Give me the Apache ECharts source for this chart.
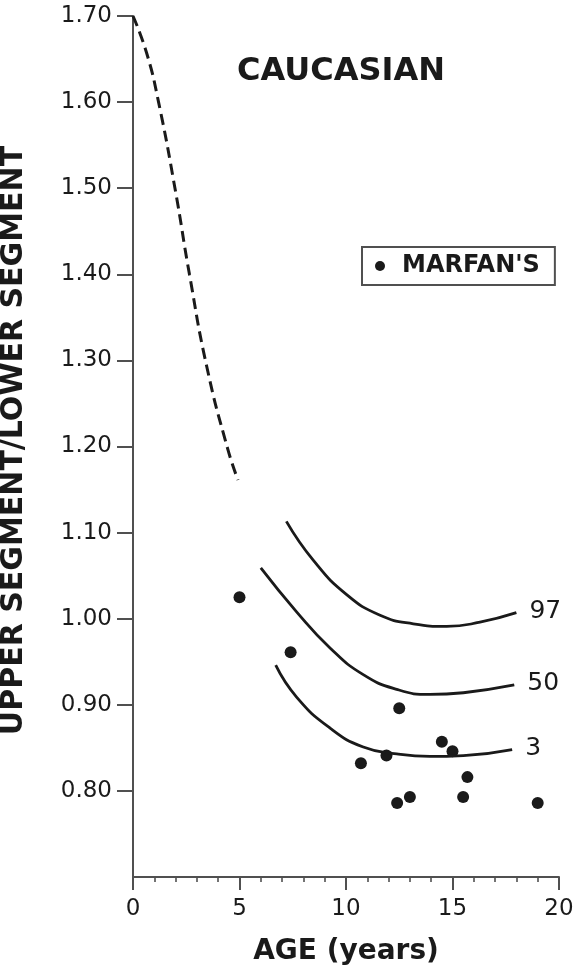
<!DOCTYPE html>
<html>
<head>
<meta charset="utf-8">
<style>
  html, body { margin: 0; padding: 0; background: #fff; }
  #chart { width: 581px; height: 973px; }
</style>
<script src="https://cdn.jsdelivr.net/npm/echarts@6/dist/echarts.min.js"></script>
</head>
<body>
<div id="chart"></div>
<script>
// Upper/lower segment ratio by age, Caucasian reference curves with Marfan's cases.

// Early-childhood extrapolated curve (dashed)
const earlyAge   = [0, 0.64, 1.2, 1.97, 2.65, 3.47, 4.46, 4.93];
const earlyRatio = [1.700, 1.657, 1.600, 1.500, 1.400, 1.292, 1.196, 1.161];

// Percentile curves
const p97Age   = [7.2, 8.46, 10.03, 11.6, 13.16, 14.73, 16.29, 18.0];
const p97Ratio = [1.113, 1.068, 1.028, 1.004, 0.994, 0.991, 0.996, 1.007];
const p50Age   = [6.0, 7.68, 9.25, 10.81, 12.38, 13.94, 15.51, 17.9];
const p50Ratio = [1.059, 1.008, 0.966, 0.935, 0.918, 0.912, 0.914, 0.923];
const p3Age    = [6.7, 7.68, 9.25, 10.81, 12.38, 13.94, 15.51, 17.8];
const p3Ratio  = [0.946, 0.909, 0.873, 0.851, 0.843, 0.840, 0.841, 0.848];
const percentileNames = ['97', '50', '3'];

// Marfan's syndrome patients
const marfanAge   = [5.0, 7.4, 10.7, 11.9, 12.5, 12.4, 13.0, 14.5, 15.0, 15.5, 15.7, 19.0];
const marfanRatio = [1.025, 0.961, 0.832, 0.841, 0.896, 0.786, 0.793, 0.857, 0.846, 0.793, 0.816, 0.786];

// Axis ticks
const xTicks = [0, 5, 10, 15, 20];
const yTicks = [0.80, 0.90, 1.00, 1.10, 1.20, 1.30, 1.40, 1.50, 1.60, 1.70];

const pairs = (xs, ys) => xs.map((x, i) => [x, ys[i]]);

const INK = '#1a1a1a';
const AXIS = '#505050';
const FONT = 'DejaVu Sans';

const curveLine = { color: INK, width: 2.8 };

function percentileSeries(name, xs, ys) {
  return {
    name: name,
    type: 'line',
    data: pairs(xs, ys),
    smooth: 0.5,
    showSymbol: false,
    silent: true,
    lineStyle: curveLine,
    endLabel: {
      show: true,
      formatter: name,
      distance: 13,
      offset: [0, -1],
      fontFamily: FONT,
      fontSize: 25,
      color: INK
    }
  };
}

const chart = echarts.init(document.getElementById('chart'), null, { renderer: 'canvas' });

chart.setOption({
  animation: false,
  backgroundColor: '#ffffff',
  title: {
    text: 'CAUCASIAN',
    left: 232,
    top: 51,
    textStyle: { fontFamily: FONT, fontWeight: 'bold', fontSize: 32, color: INK }
  },
  legend: {
    data: ["MARFAN'S"],
    left: 362,
    top: 247,
    orient: 'horizontal',
    selectedMode: false,
    icon: 'circle',
    itemWidth: 10,
    itemHeight: 10,
    padding: [7, 15, 7, 13],
    borderColor: AXIS,
    borderWidth: 2,
    textStyle: {
      fontFamily: FONT,
      fontWeight: 'bold',
      fontSize: 24,
      color: INK,
      padding: [0, 0, 0, 12]
    }
  },
  grid: {
    left: 133,
    right: 22,
    top: 16,
    bottom: 96,
    containLabel: false,
    outerBoundsMode: 'none'
  },
  xAxis: {
    type: 'value',
    min: 0,
    max: 20,
    interval: 5,
    name: 'AGE (years)',
    nameLocation: 'middle',
    nameGap: 61,
    nameTextStyle: { fontFamily: FONT, fontWeight: 'bold', fontSize: 28, color: INK },
    axisLine: { show: true, lineStyle: { color: AXIS, width: 2 } },
    axisTick: { show: true, length: 13, customValues: xTicks, lineStyle: { color: AXIS, width: 2 } },
    minorTick: { show: true, splitNumber: 5, length: 5, lineStyle: { color: AXIS, width: 1.6 } },
    axisLabel: { customValues: xTicks, margin: 21, fontFamily: FONT, fontSize: 23, color: INK },
    splitLine: { show: false }
  },
  yAxis: {
    type: 'value',
    min: 0.7,
    max: 1.7,
    interval: 0.1,
    name: 'UPPER SEGMENT/LOWER SEGMENT',
    nameLocation: 'middle',
    nameRotate: 90,
    nameGap: 104,
    nameTextStyle: { fontFamily: FONT, fontWeight: 'bold', fontSize: 30, color: INK, padding: [0, 0, 0, 12] },
    axisLine: { show: true, lineStyle: { color: AXIS, width: 2 } },
    axisTick: { show: true, length: 16, customValues: yTicks, lineStyle: { color: AXIS, width: 2 } },
    axisLabel: {
      customValues: yTicks,
      margin: 21,
      fontFamily: FONT,
      fontSize: 23,
      color: INK,
      formatter: v => Number(v).toFixed(2)
    },
    splitLine: { show: false }
  },
  series: [
    {
      name: 'early',
      type: 'line',
      data: pairs(earlyAge, earlyRatio),
      smooth: 0.5,
      showSymbol: false,
      silent: true,
      lineStyle: { color: INK, width: 3, type: [11, 6] }
    },
    percentileSeries(percentileNames[0], p97Age, p97Ratio),
    percentileSeries(percentileNames[1], p50Age, p50Ratio),
    percentileSeries(percentileNames[2], p3Age, p3Ratio),
    {
      name: "MARFAN'S",
      type: 'scatter',
      data: pairs(marfanAge, marfanRatio),
      symbol: 'circle',
      symbolSize: 12,
      itemStyle: { color: INK, opacity: 1 }
    }
  ]
});
</script>
</body>
</html>
